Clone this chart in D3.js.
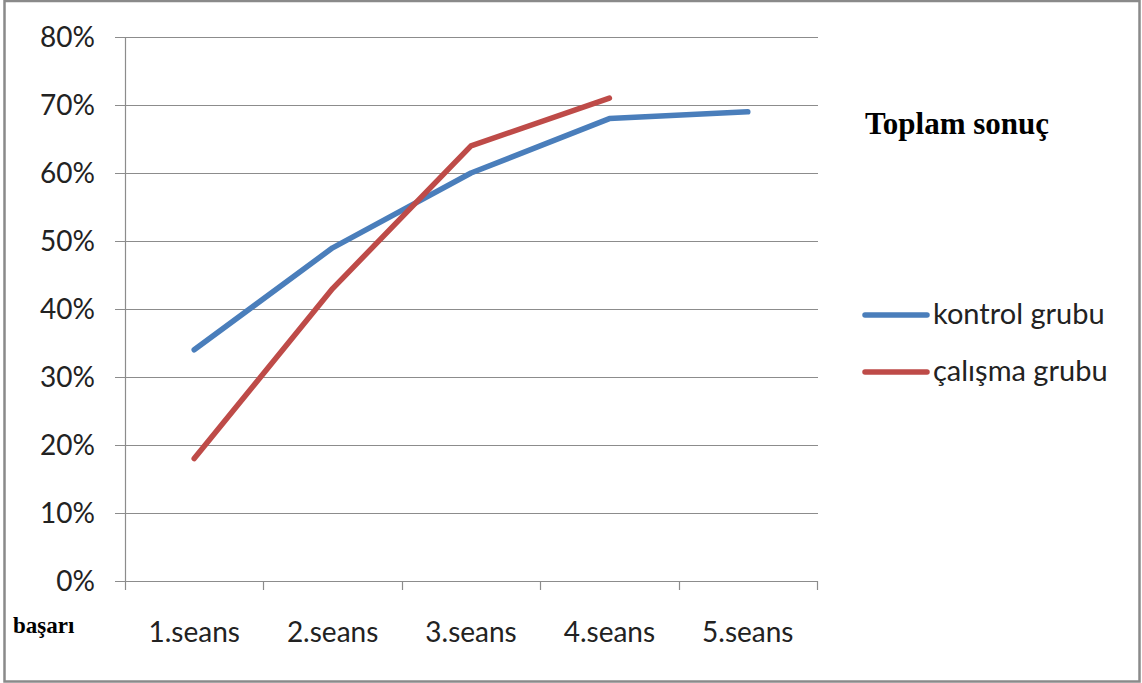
<!DOCTYPE html>
<html>
<head>
<meta charset="utf-8">
<script src="https://cdn.jsdelivr.net/npm/d3@7"></script>
<style>
  html, body { margin: 0; padding: 0; background: #fff; }
  svg { display: block; }
</style>
</head>
<body>
<svg id="chart" width="1142" height="683"></svg>
<script>
// Sessions on the horizontal axis
const sessions = ["1.seans", "2.seans", "3.seans", "4.seans", "5.seans"];
// Success rates (%) per group
const kontrolValues = [34, 49, 60, 68, 69];
const calismaValues = [18, 43, 64, 71];
const seriesNames = ["kontrol grubu", "çalışma grubu"];
const seriesColors = ["#4A7EBB", "#BE4B48"];
const yTicks = [0, 10, 20, 30, 40, 50, 60, 70, 80];

const svg = d3.select("#chart");
const W = 1142, H = 683;
const sans = "Lato, 'Open Sans', sans-serif";
const serif = "'Liberation Serif', 'Times New Roman', serif";

// outer frame
svg.append("rect")
  .attr("x", 4.5).attr("y", 1).attr("width", W - 7).attr("height", H - 2.5)
  .attr("fill", "#fff").attr("stroke", "#8a8a8a").attr("stroke-width", 2.5);

const plot = { left: 125, right: 817, top: 37, bottom: 581 };

const x = d3.scaleBand().domain(sessions).range([plot.left, plot.right]).padding(0);
const y = d3.scaleLinear().domain([0, 80]).range([plot.bottom, plot.top]);

// horizontal gridlines
svg.append("g").selectAll("line").data(yTicks).join("line")
  .attr("x1", plot.left - 10).attr("x2", plot.right + 1)
  .attr("y1", d => Math.round(y(d)) + 0.5).attr("y2", d => Math.round(y(d)) + 0.5)
  .attr("stroke", "#8c8c8c").attr("stroke-width", 1.2);

// y axis line
svg.append("line")
  .attr("x1", plot.left + 0.5).attr("x2", plot.left + 0.5)
  .attr("y1", plot.top).attr("y2", plot.bottom)
  .attr("stroke", "#8c8c8c").attr("stroke-width", 1.2);

// y tick labels
svg.append("g").selectAll("text").data(yTicks).join("text")
  .attr("x", 95).attr("y", d => y(d) + 10)
  .attr("text-anchor", "end")
  .attr("font-family", sans)
  .attr("font-size", 28).attr("fill", "#222")
  .text(d => d + "%");

// x tick marks at band boundaries
const bounds = sessions.map(s => x(s)).concat([x(sessions[sessions.length - 1]) + x.bandwidth()]);
svg.append("g").selectAll("line").data(bounds).join("line")
  .attr("x1", d => Math.round(d) + 0.5).attr("x2", d => Math.round(d) + 0.5)
  .attr("y1", plot.bottom).attr("y2", plot.bottom + 9)
  .attr("stroke", "#8c8c8c").attr("stroke-width", 1.2);

// x labels
svg.append("g").selectAll("text").data(sessions).join("text")
  .attr("x", d => x(d) + x.bandwidth() / 2).attr("y", 642)
  .attr("text-anchor", "middle")
  .attr("font-family", sans)
  .attr("font-size", 28).attr("fill", "#222")
  .text(d => d);

// lines
const line = d3.line()
  .x((d, i) => x(sessions[i]) + x.bandwidth() / 2)
  .y(d => y(d));

[kontrolValues, calismaValues].forEach((vals, k) => {
  svg.append("path")
    .datum(vals)
    .attr("d", line)
    .attr("fill", "none")
    .attr("stroke", seriesColors[k])
    .attr("stroke-width", 5.5)
    .attr("stroke-linejoin", "round")
    .attr("stroke-linecap", "round");
});

// title
svg.append("text")
  .attr("x", 865).attr("y", 134)
  .attr("font-family", serif)
  .attr("font-weight", "bold").attr("font-size", 31).attr("fill", "#000")
  .text("Toplam sonuç");

// axis caption
svg.append("text")
  .attr("x", 13).attr("y", 633)
  .attr("font-family", serif)
  .attr("font-weight", "bold").attr("font-size", 23).attr("fill", "#000")
  .text("başarı");

// legend
const legendY = [315, 372];
const lg = svg.append("g").selectAll("g").data(seriesNames).join("g")
  .attr("transform", (d, i) => `translate(0, ${legendY[i]})`);
lg.append("line")
  .attr("x1", 865).attr("x2", 927).attr("y1", 0).attr("y2", 0)
  .attr("stroke", (d, i) => seriesColors[i]).attr("stroke-width", 5.5)
  .attr("stroke-linecap", "round");
lg.append("text")
  .attr("x", 933).attr("y", 9)
  .attr("font-family", sans)
  .attr("font-size", 29).attr("fill", "#222")
  .text(d => d);
</script>
</body>
</html>
